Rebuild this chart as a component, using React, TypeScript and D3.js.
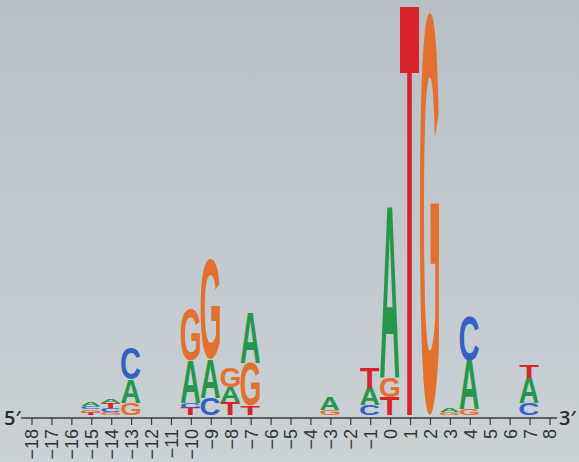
import React, { useEffect, useRef } from 'react';
import * as d3 from 'd3';

// tick labels along the sequence axis
const tickPositions = [-18, -17, -16, -15, -14, -13, -12, -11, -10, -9, -8, -7, -6, -5, -4, -3, -2, -1, 0, 1, 2, 3, 4, 5, 6, 7, 8];

// columns that carry letters; letters are listed bottom -> top
const logoPositions = [-15, -14, -13, -10, -9, -8, -7, -3, -1, 0, 1, 2, 3, 4, 7];
const logoLetters = ['TGCA', 'GCTA', 'GAC', 'TCAG', 'CAG', 'TAG', 'TGA', 'GA', 'CAT', 'TGA', 'T', 'G', 'GA', 'GAC', 'CAT'];
const logoBits = [
  [0.012, 0.015, 0.015, 0.02],
  [0.015, 0.02, 0.025, 0.02],
  [0.059, 0.113, 0.157],
  [0.034, 0.025, 0.206, 0.25],
  [0.084, 0.187, 0.49],
  [0.064, 0.074, 0.093],
  [0.044, 0.21, 0.245],
  [0.025, 0.059],
  [0.049, 0.084, 0.098],
  [0.088, 0.098, 0.835],
  [2.0],
  [1.97],
  [0.015, 0.015],
  [0.03, 0.236, 0.216],
  [0.059, 0.123, 0.064],
];

const baseColors: Record<string, string> = {
  A: '#25974a',
  C: '#3561c6',
  G: '#e3702d',
  T: '#d7242b',
};

const LETTER_FONT = "'Liberation Sans', Arial, sans-serif";
const FS = 500;

// find the real ink box of a glyph by drawing it and scanning the pixels
function inkBox(ch: string) {
  const size = 800;
  const ox = 100;
  const oy = 650;
  const canvas = document.createElement('canvas');
  canvas.width = size;
  canvas.height = size;
  const ctx = canvas.getContext('2d')!;
  ctx.font = `bold ${FS}px ${LETTER_FONT}`;
  ctx.fillStyle = '#000';
  ctx.fillText(ch, ox, oy);
  const px = ctx.getImageData(0, 0, size, size).data;
  let minX = size, maxX = 0, minY = size, maxY = 0;
  for (let y = 0; y < size; y++) {
    for (let x = 0; x < size; x++) {
      if (px[(y * size + x) * 4 + 3] > 127) {
        if (x < minX) minX = x;
        if (x > maxX) maxX = x;
        if (y < minY) minY = y;
        if (y > maxY) maxY = y;
      }
    }
  }
  return { l: ox - minX, r: maxX + 1 - ox, a: oy - minY, d: maxY + 1 - oy };
}

const SequenceLogo = () => {
  const chartRef = useRef<HTMLDivElement>(null);

  useEffect(() => {
    const width = 579;
    const height = 462;
    const baseline = 415;
    const axisY = 418;

    d3.select(chartRef.current).selectAll('svg').remove();

    const svg = d3.select(chartRef.current)
      .append('svg')
      .attr('width', width)
      .attr('height', height)
      .style('display', 'block');

    // faint paper-like background
    const grad = svg.append('defs').append('linearGradient')
      .attr('id', 'bg')
      .attr('x1', 0).attr('y1', 0).attr('x2', 0).attr('y2', 1);
    grad.append('stop').attr('offset', '0%').attr('stop-color', '#b8bfc5');
    grad.append('stop').attr('offset', '100%').attr('stop-color', '#cbd2d6');
    svg.append('rect').attr('width', width).attr('height', height).attr('fill', 'url(#bg)');

    const xScale = d3.scaleLinear().domain([-18, 8]).range([32, 550]);
    const yScale = d3.scaleLinear().domain([0, 2]).range([baseline, 7]);

    const metrics: Record<string, { l: number; r: number; a: number; d: number }> = {};
    'ACGT'.split('').forEach(ch => { metrics[ch] = inkBox(ch); });

    const letterW = 19;
    const letters = svg.append('g');
    logoPositions.forEach((pos, i) => {
      let acc = 0;
      logoLetters[i].split('').forEach((ch, j) => {
        const bits = logoBits[i][j];
        const yBottom = yScale(acc);
        const yTop = yScale(acc + bits);
        acc += bits;
        const m = metrics[ch];
        const sx = letterW / (m.l + m.r);
        const sy = (yBottom - yTop) / (m.a + m.d);
        const x0 = xScale(pos) - 1 - letterW / 2;
        letters.append('text')
          .attr('transform', `translate(${x0 + m.l * sx},${yBottom - m.d * sy}) scale(${sx},${sy})`)
          .attr('font-family', LETTER_FONT)
          .attr('font-weight', 'bold')
          .attr('font-size', FS)
          .attr('fill', baseColors[ch])
          .text(ch);
      });
    });

    // axis line with ticks
    svg.append('line')
      .attr('x1', 21).attr('x2', 557)
      .attr('y1', axisY).attr('y2', axisY)
      .attr('stroke', '#3a3a3a')
      .attr('stroke-width', 1.6);

    svg.selectAll('.tick')
      .data(tickPositions)
      .enter()
      .append('line')
      .attr('class', 'tick')
      .attr('x1', d => xScale(d)).attr('x2', d => xScale(d))
      .attr('y1', axisY).attr('y2', axisY + 7)
      .attr('stroke', '#3a3a3a')
      .attr('stroke-width', 1.2);

    svg.selectAll('.tick-label')
      .data(tickPositions)
      .enter()
      .append('text')
      .attr('class', 'tick-label')
      .attr('transform', d => `translate(${xScale(d)},429) rotate(-90)`)
      .attr('text-anchor', 'end')
      .attr('dy', '0.36em')
      .attr('font-family', "'Liberation Sans', Arial, sans-serif")
      .attr('font-size', 18)
      .attr('fill', '#333')
      .text(d => (d < 0 ? `\u2212${-d}` : `${d}`));

    // strand ends
    svg.append('text')
      .attr('x', 4).attr('y', 425)
      .attr('font-family', "'Open Sans', sans-serif")
      .attr('font-weight', 600)
      .attr('font-size', 20)
      .attr('fill', '#2b2b2b')
      .text('5\u2032');

    svg.append('text')
      .attr('x', 559).attr('y', 425)
      .attr('font-family', "'Open Sans', sans-serif")
      .attr('font-weight', 600)
      .attr('font-size', 20)
      .attr('fill', '#2b2b2b')
      .text('3\u2032');
  }, []);

  return <div ref={chartRef} style={{ position: 'absolute', left: 0, top: 0 }}></div>;
};

export default function App() {
  return <SequenceLogo />;
}
